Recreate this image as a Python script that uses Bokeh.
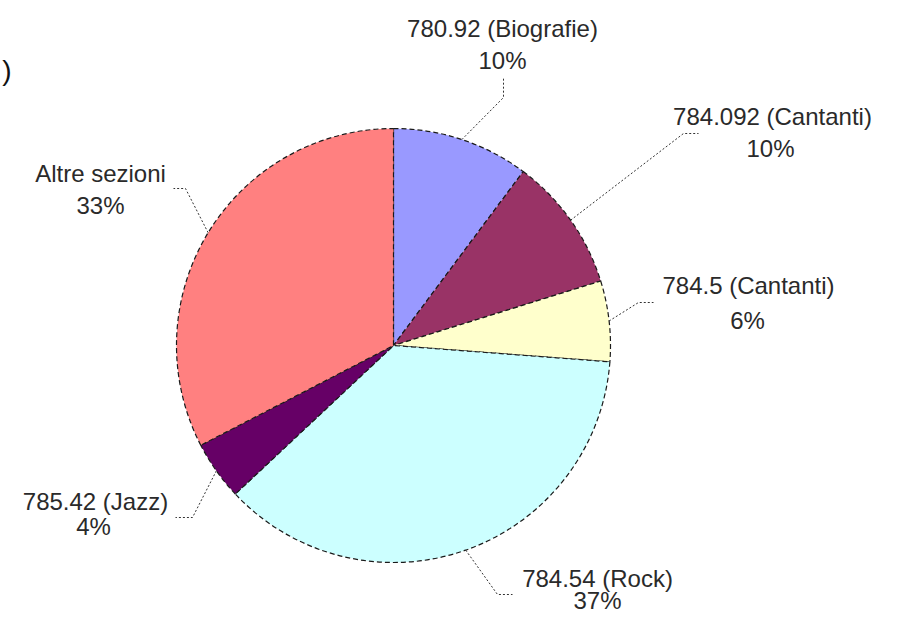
import math
from bokeh.plotting import figure
from bokeh.models import Range1d, ColumnDataSource
from bokeh.embed import file_html
from bokeh.resources import INLINE

# ---- data ----
categories = ["780.92 (Biografie)", "784.092 (Cantanti)", "784.5 (Cantanti)",
              "784.54 (Rock)", "785.42 (Jazz)", "Altre sezioni"]
values = [10.2, 10.0, 6.0, 36.8, 4.4, 32.6]
colors = ["#9999FF", "#993366", "#FFFFCC", "#CCFFFF", "#660066", "#FF8080"]

# ---- layout (picture pixel coords; y downward) ----
CX, CY, R = 393, 345, 217
# label line-1 centre, line-2 centre, elbow point, end point of leader
label_l1 = [(502, 28), (772, 116), (748, 285), (597, 578), (95, 501), (100, 173)]
label_l2 = [(502, 60), (770, 148), (747, 320), (597, 600), (93, 526), (100, 205)]
elbows = [(503, 97), (683, 133), (638, 302), (497, 594), (192, 517), (185, 188)]
ends = [(503, 78), (698, 133), (653, 302), (512, 594), (175, 517), (173, 188)]

W, H = 898, 616
p = figure(width=W, height=H, output_backend="svg", toolbar_location=None,
           x_range=Range1d(0, W), y_range=Range1d(-H, 0),
           min_border=0)
p.axis.visible = False
p.grid.visible = False
p.outline_line_color = None
p.background_fill_color = "white"
p.border_fill_color = "white"

total = sum(values)
starts, endsA, mids = [], [], []
acc = 0.0
for v in values:
    a0 = math.pi / 2 - 2 * math.pi * acc / total
    acc += v
    a1 = math.pi / 2 - 2 * math.pi * acc / total
    starts.append(a0)
    endsA.append(a1)
    mids.append((a0 + a1) / 2)

src = ColumnDataSource(dict(x=[CX] * len(values), y=[-CY] * len(values),
                            start=starts, end=endsA, color=colors))
p.wedge(x="x", y="y", radius=R, start_angle="start", end_angle="end",
        direction="clock", fill_color="color", line_color="#1a1a1a",
        line_width=1.2, line_dash="5 3", source=src)

# leader lines
xs, ys = [], []
for m, (ex, ey), (fx, fy) in zip(mids, elbows, ends):
    sx = CX + R * math.cos(m)
    sy = CY - R * math.sin(m)
    xs.append([sx, ex, fx])
    ys.append([-sy, -ey, -fy])
p.multi_line(xs=xs, ys=ys, line_color="#333333", line_width=1, line_dash="2 2")

pcts = [f"{round(v / total * 100)}%" for v in values]
p.text(x=[a for a, b in label_l1], y=[-b for a, b in label_l1], text=categories,
       text_align="center", text_baseline="middle", text_font_size="24px",
       text_color="#2a2a2a", text_font={"value": "Liberation Sans"})
p.text(x=[a for a, b in label_l2], y=[-b for a, b in label_l2], text=pcts,
       text_align="center", text_baseline="middle", text_font_size="24px",
       text_color="#2a2a2a", text_font={"value": "Liberation Sans"})

# stray character at top-left of the original
p.text(x=[11], y=[-70], text=[")"], text_align="right", text_baseline="middle",
       text_font_size="28px", text_color="#111111",
       text_font={"value": "Liberation Sans"})

open("out.html", "w").write(file_html(p, INLINE))
